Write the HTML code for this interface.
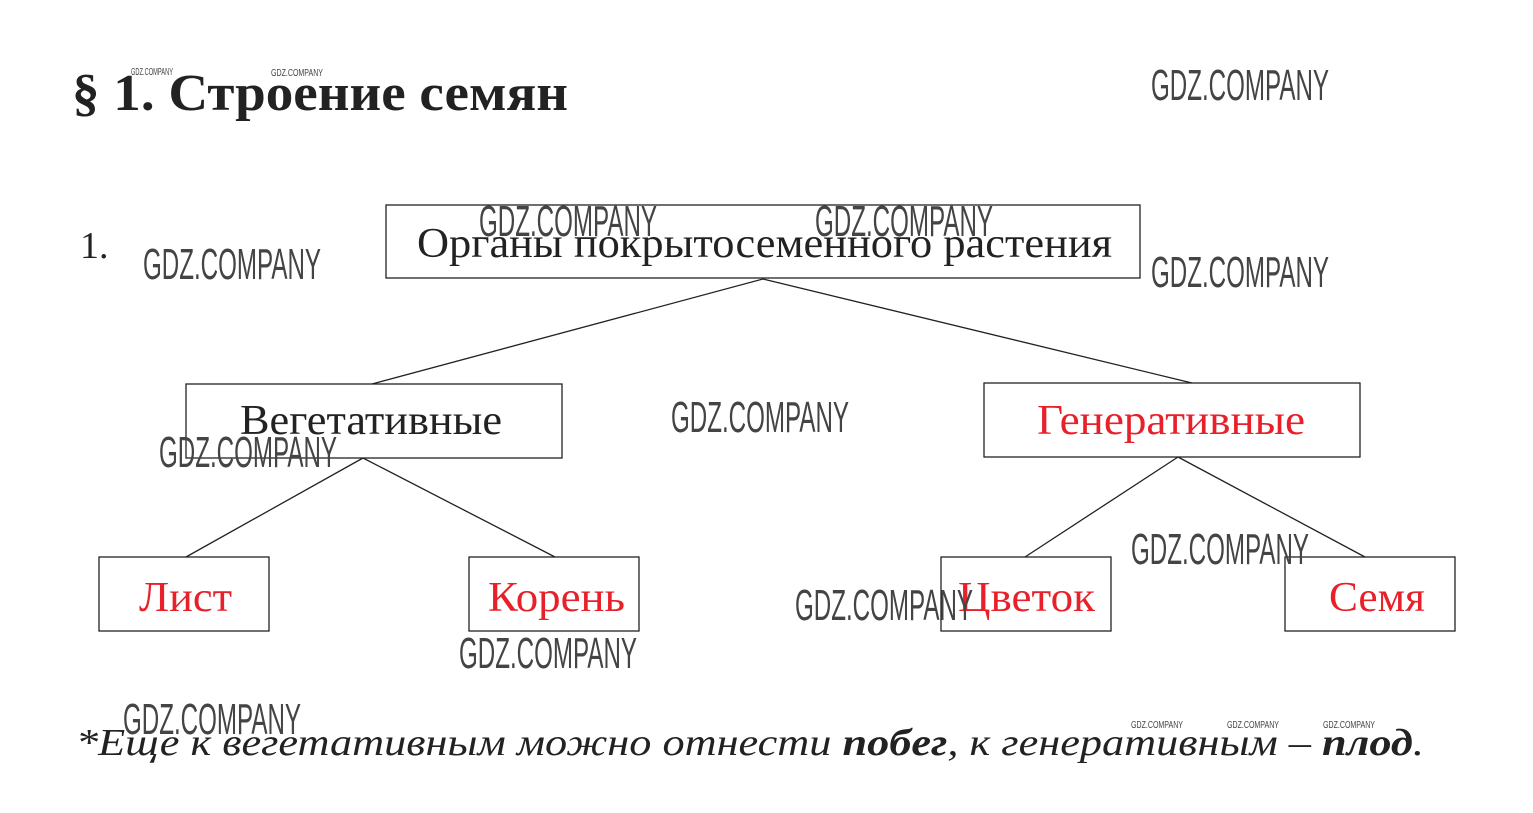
<!DOCTYPE html>
<html><head><meta charset="utf-8"><style>
html,body{margin:0;padding:0;background:#fff;}
svg{display:block;}
.s{font-family:"Liberation Serif",serif;}
.w{font-family:"Liberation Sans Narrow","Liberation Sans",sans-serif;fill:#444;}
</style></head><body>
<svg width="1533" height="813" viewBox="0 0 1533 813" xmlns="http://www.w3.org/2000/svg">
<text x="72" y="110" class="s" font-size="52" font-weight="bold" fill="#222" textLength="496" lengthAdjust="spacingAndGlyphs">§ 1. Строение семян</text>
<text x="80" y="258" class="s" font-size="38" fill="#222">1.</text>

<g fill="none" stroke="#222" stroke-width="1.3">
<rect x="386" y="205" width="754" height="73"/>
<rect x="186" y="384" width="376" height="74"/>
<rect x="984" y="383" width="376" height="74"/>
<rect x="99" y="557" width="170" height="74"/>
<rect x="469" y="557" width="170" height="74"/>
<rect x="941" y="557" width="170" height="74"/>
<rect x="1285" y="557" width="170" height="74"/>
<line x1="763" y1="279" x2="372" y2="384"/>
<line x1="763" y1="279" x2="1192" y2="383"/>
<line x1="363" y1="458" x2="186" y2="557"/>
<line x1="363" y1="458" x2="555" y2="557"/>
<line x1="1178" y1="457" x2="1025" y2="557"/>
<line x1="1178" y1="457" x2="1365" y2="557"/>
</g>

<g class="s" font-size="42">
<text x="417" y="257" fill="#222" textLength="695" lengthAdjust="spacingAndGlyphs">Органы покрытосеменного растения</text>
<text x="240" y="434" fill="#222" textLength="262" lengthAdjust="spacingAndGlyphs">Вегетативные</text>
<text x="1037" y="434" fill="#e8202a" textLength="268" lengthAdjust="spacingAndGlyphs">Генеративные</text>
<text x="139" y="611" fill="#e8202a" textLength="93" lengthAdjust="spacingAndGlyphs">Лист</text>
<text x="488" y="611" fill="#e8202a" textLength="137" lengthAdjust="spacingAndGlyphs">Корень</text>
<text x="958" y="611" fill="#e8202a" textLength="137" lengthAdjust="spacingAndGlyphs">Цветок</text>
<text x="1329" y="611" fill="#e8202a" textLength="96" lengthAdjust="spacingAndGlyphs">Семя</text>
</g>

<text x="76" y="755" class="s" font-size="38" font-style="italic" fill="#222" textLength="1348" lengthAdjust="spacingAndGlyphs">*Еще к вегетативным можно отнести <tspan font-weight="bold">побег</tspan>, к генеративным – <tspan font-weight="bold">плод</tspan>.</text>

<g class="w" font-size="44">
<text x="1151" y="100" textLength="178" lengthAdjust="spacingAndGlyphs">GDZ.COMPANY</text>
<text x="479" y="236" textLength="178" lengthAdjust="spacingAndGlyphs">GDZ.COMPANY</text>
<text x="815" y="236" textLength="178" lengthAdjust="spacingAndGlyphs">GDZ.COMPANY</text>
<text x="143" y="279" textLength="178" lengthAdjust="spacingAndGlyphs">GDZ.COMPANY</text>
<text x="1151" y="287" textLength="178" lengthAdjust="spacingAndGlyphs">GDZ.COMPANY</text>
<text x="671" y="432" textLength="178" lengthAdjust="spacingAndGlyphs">GDZ.COMPANY</text>
<text x="159" y="467" textLength="178" lengthAdjust="spacingAndGlyphs">GDZ.COMPANY</text>
<text x="1131" y="564" textLength="178" lengthAdjust="spacingAndGlyphs">GDZ.COMPANY</text>
<text x="795" y="620" textLength="178" lengthAdjust="spacingAndGlyphs">GDZ.COMPANY</text>
<text x="459" y="668" textLength="178" lengthAdjust="spacingAndGlyphs">GDZ.COMPANY</text>
<text x="123" y="734" textLength="178" lengthAdjust="spacingAndGlyphs">GDZ.COMPANY</text>
</g>
<g class="w" font-size="10">
<text x="131" y="75" textLength="42" lengthAdjust="spacingAndGlyphs">GDZ.COMPANY</text>
<text x="271" y="76" textLength="52" lengthAdjust="spacingAndGlyphs">GDZ.COMPANY</text>
<text x="1131" y="728" textLength="52" lengthAdjust="spacingAndGlyphs">GDZ.COMPANY</text>
<text x="1227" y="728" textLength="52" lengthAdjust="spacingAndGlyphs">GDZ.COMPANY</text>
<text x="1323" y="728" textLength="52" lengthAdjust="spacingAndGlyphs">GDZ.COMPANY</text>
</g>
</svg>
</body></html>
